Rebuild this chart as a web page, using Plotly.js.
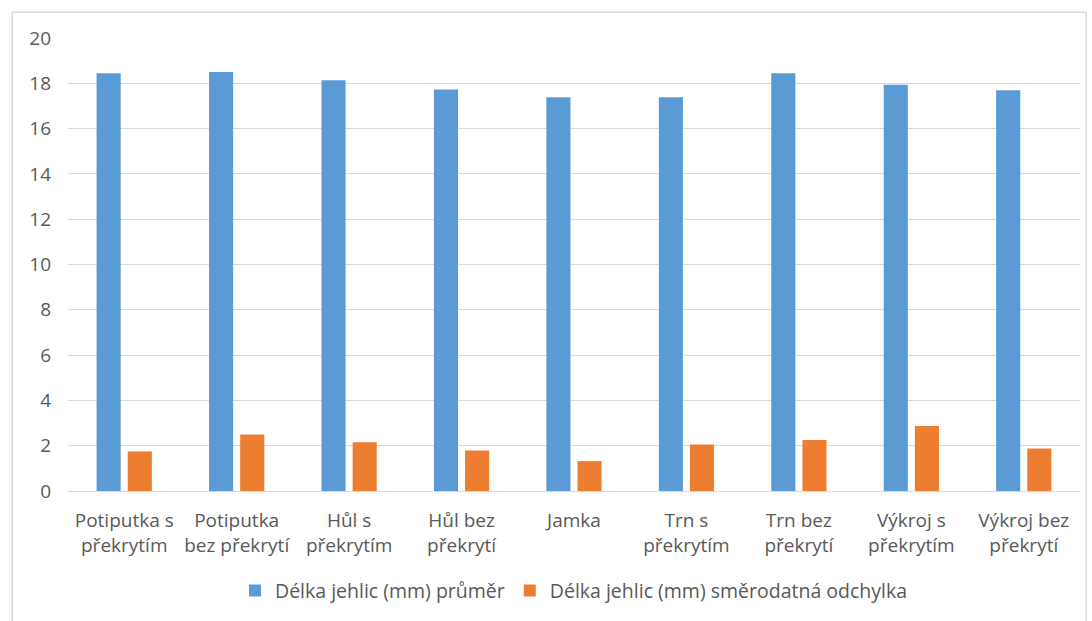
<!DOCTYPE html>
<html><head><meta charset="utf-8">
<script src="https://cdn.plot.ly/plotly-3.0.1.min.js"></script>
<style>body{margin:0;background:#fff}#c{width:1092px;height:621px}</style>
</head><body><div id="c"></div>
<script>
const categories = ["Potiputka s<br>překrytím","Potiputka<br>bez překrytí","Hůl s<br>překrytím","Hůl bez<br>překrytí","Jamka<br> ","Trn s<br>překrytím","Trn bez<br>překrytí","Výkroj s<br>překrytím","Výkroj bez<br>překrytí"];
const meanValues = [18.44, 18.50, 18.13, 17.73, 17.38, 17.38, 18.44, 17.94, 17.69];
const sdValues = [1.74, 2.50, 2.15, 1.79, 1.32, 2.05, 2.25, 2.87, 1.88];
const seriesNames = ["Délka jehlic (mm) průměr","Délka jehlic (mm) směrodatná odchylka"];
const yTicks = [0,2,4,6,8,10,12,14,16,18,20];

const data = [
  {type:'bar', x:categories, y:meanValues, name:seriesNames[0], marker:{color:'#5B9BD5'}, hoverinfo:'y'},
  {type:'bar', x:categories, y:sdValues, name:seriesNames[1], marker:{color:'#ED7D31'}, hoverinfo:'y'}
];
const layout = {
  width:1092, height:621,
  margin:{l:68, r:12, t:38, b:130},
  paper_bgcolor:'#fff', plot_bgcolor:'#fff',
  font:{family:'"Open Sans", sans-serif', size:19, color:'#595959'},
  barmode:'group', bargap:0.446, bargroupgap:0.226,
  showlegend:true,
  legend:{orientation:'h', x:0.5, xanchor:'center', yref:'container', y:0.08, yanchor:'top', font:{size:19.5, color:'#595959'}, itemwidth:30, traceorder:'normal'},
  xaxis:{type:'category', showgrid:false, showline:false, zeroline:false, ticks:'', ticklabelstandoff:16, tickfont:{size:19, color:'#595959'}, automargin:false},
  yaxis:{range:[0,20], tickvals:yTicks, showgrid:true, gridcolor:'#D9D9D9', gridwidth:1, zeroline:true, zerolinecolor:'#D9D9D9', zerolinewidth:1, showline:false, ticks:'', ticklabelstandoff:16, tickfont:{size:19, color:'#595959'}, automargin:false},
  shapes:[{type:'rect', xref:'paper', yref:'paper', x0:-0.0551, x1:1.0061, y0:-0.3, y1:1.057, line:{color:'#D9D9D9', width:1.5}, fillcolor:'rgba(0,0,0,0)', layer:'below'}]
};
Plotly.newPlot('c', data, layout, {displayModeBar:false, staticPlot:true});
</script></body></html>
